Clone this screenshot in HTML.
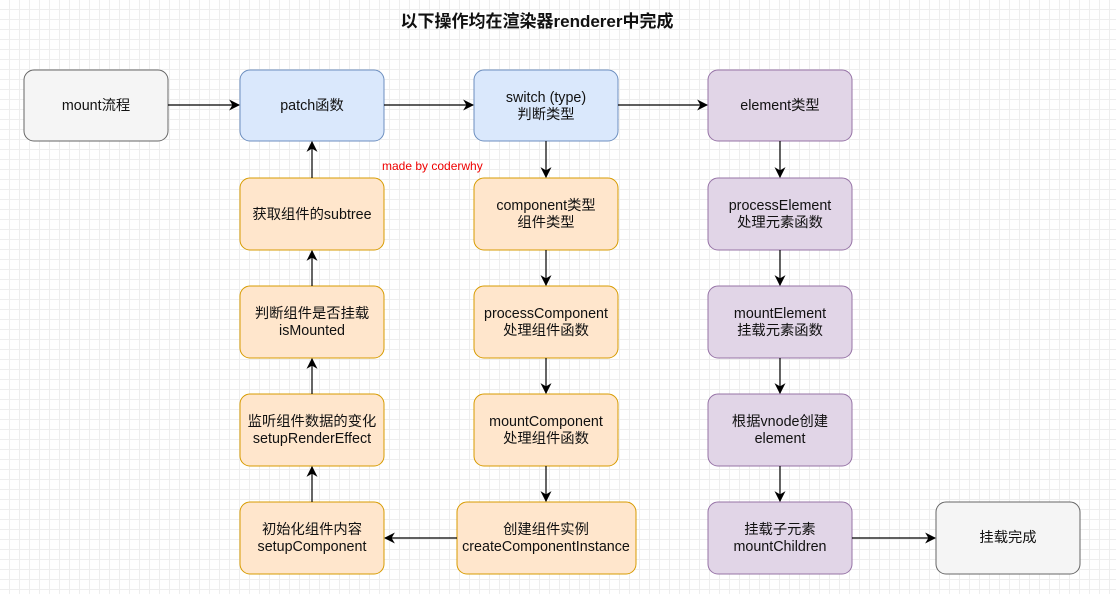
<!DOCTYPE html>
<html><head><meta charset="utf-8"><style>
body{margin:0;width:1116px;height:589px;overflow:hidden;background:#fff;
background-image:linear-gradient(#eee 1px,transparent 1px),linear-gradient(90deg,#eee 1px,transparent 1px);background-size:10px 10px;background-position:-1px -1px}
text{font-family:"Liberation Sans","Noto Sans CJK SC",sans-serif;font-size:14.3px;fill:#111}
</style></head><body>
<svg width="1116" height="589" xmlns="http://www.w3.org/2000/svg">
<defs><marker id="a" viewBox="0 0 10 10" refX="9" refY="5" markerWidth="11" markerHeight="11" orient="auto" markerUnits="userSpaceOnUse"><path d="M0,0 L10,5 L0,10 L3,5z" fill="#000"/></marker></defs>
<text x="537" y="27" text-anchor="middle" style="font-size:17px;font-weight:bold">以下操作均在渲染器renderer中完成</text>
<g stroke-width="1">
<rect x="24" y="70" width="144" height="71" rx="10" fill="#f5f5f5" stroke="#666"/>
<rect x="240" y="70" width="144" height="71" rx="10" fill="#dae8fc" stroke="#6c8ebf"/>
<rect x="474" y="70" width="144" height="71" rx="10" fill="#dae8fc" stroke="#6c8ebf"/>
<rect x="708" y="70" width="144" height="71" rx="10" fill="#e1d5e7" stroke="#9673a6"/>
<g fill="#ffe6cc" stroke="#d79b00">
<rect x="240" y="178" width="144" height="72" rx="10"/><rect x="240" y="286" width="144" height="72" rx="10"/>
<rect x="240" y="394" width="144" height="72" rx="10"/><rect x="240" y="502" width="144" height="72" rx="10"/>
<rect x="474" y="178" width="144" height="72" rx="10"/><rect x="474" y="286" width="144" height="72" rx="10"/>
<rect x="474" y="394" width="144" height="72" rx="10"/><rect x="457" y="502" width="179" height="72" rx="10"/>
</g>
<g fill="#e1d5e7" stroke="#9673a6">
<rect x="708" y="178" width="144" height="72" rx="10"/><rect x="708" y="286" width="144" height="72" rx="10"/>
<rect x="708" y="394" width="144" height="72" rx="10"/><rect x="708" y="502" width="144" height="72" rx="10"/>
</g>
<rect x="936" y="502" width="144" height="72" rx="10" fill="#f5f5f5" stroke="#666"/>
</g>
<g stroke="#000" stroke-width="1.2" marker-end="url(#a)">
<line x1="168" y1="105" x2="239" y2="105"/><line x1="384" y1="105" x2="473" y2="105"/><line x1="618" y1="105" x2="707" y2="105"/>
<line x1="546" y1="141" x2="546" y2="177"/><line x1="546" y1="250" x2="546" y2="285"/><line x1="546" y1="358" x2="546" y2="393"/><line x1="546" y1="466" x2="546" y2="501"/>
<line x1="780" y1="141" x2="780" y2="177"/><line x1="780" y1="250" x2="780" y2="285"/><line x1="780" y1="358" x2="780" y2="393"/><line x1="780" y1="466" x2="780" y2="501"/>
<line x1="852" y1="538" x2="935" y2="538"/><line x1="457" y1="538" x2="385" y2="538"/>
<line x1="312" y1="502" x2="312" y2="467"/><line x1="312" y1="394" x2="312" y2="359"/><line x1="312" y1="286" x2="312" y2="251"/><line x1="312" y1="178" x2="312" y2="142"/>
</g>
<g text-anchor="middle">
<text x="96" y="110">mount流程</text><text x="312" y="110">patch函数</text>
<text x="546" y="102">switch (type)</text><text x="546" y="119">判断类型</text>
<text x="780" y="110">element类型</text>
<text x="312" y="219">获取组件的subtree</text>
<text x="312" y="318">判断组件是否挂载</text><text x="312" y="335">isMounted</text>
<text x="312" y="426">监听组件数据的变化</text><text x="312" y="443">setupRenderEffect</text>
<text x="312" y="534">初始化组件内容</text><text x="312" y="551">setupComponent</text>
<text x="546" y="210">component类型</text><text x="546" y="227">组件类型</text>
<text x="546" y="318">processComponent</text><text x="546" y="335">处理组件函数</text>
<text x="546" y="426">mountComponent</text><text x="546" y="443">处理组件函数</text>
<text x="546" y="534">创建组件实例</text><text x="546" y="551">createComponentInstance</text>
<text x="780" y="210">processElement</text><text x="780" y="227">处理元素函数</text>
<text x="780" y="318">mountElement</text><text x="780" y="335">挂载元素函数</text>
<text x="780" y="426">根据vnode创建</text><text x="780" y="443">element</text>
<text x="780" y="534">挂载子元素</text><text x="780" y="551">mountChildren</text>
<text x="1008" y="542">挂载完成</text>
</g>
<text x="382" y="170" style="font-size:12px;fill:#e00">made by coderwhy</text>
</svg>
</body></html>
